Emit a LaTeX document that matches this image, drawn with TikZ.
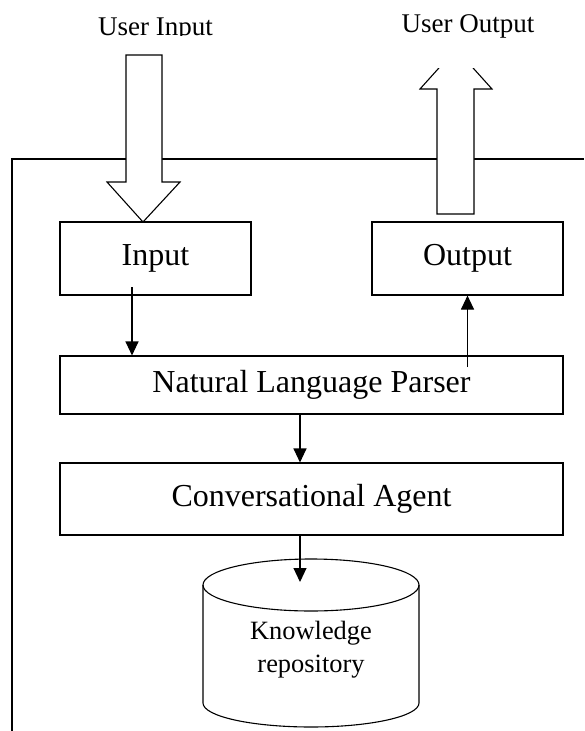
\documentclass[tikz,border=0pt]{standalone}
\usepackage{fontspec}
\setmainfont{Liberation Serif}
\usepackage{tikz}
\usetikzlibrary{arrows.meta}

\begin{document}
\begin{tikzpicture}[x=1pt,y=-1pt,line width=1.1pt,
	box/.style={draw,minimum width=191pt,minimum height=73pt,font=\fontsize{32}{38}\selectfont},
	widebox/.style={draw,minimum width=503pt,font=\fontsize{32}{38}\selectfont},
	userlabel/.style={anchor=base,inner sep=0pt,font=\fontsize{27}{32}\selectfont},
	arr/.style={-{Triangle[length=14pt,width=13pt]}},
	bigarrow/.style={draw,fill=white,line join=miter}]
	\useasboundingbox (0,0) rectangle (584,731);
	% outer frame
	\draw (12,731) -- (12,159) -- (584,159);
	% boxes
	\node[box] at (155.5,258.5) (in) {Input};
	\node[box] at (467.5,258.5) (out) {Output};
	\node[widebox,minimum height=58pt] at (311.5,385) (nlp) {Natural Language Parser};
	\node[widebox,minimum height=72pt] at (311.5,499) (ca) {Conversational Agent};
	% knowledge repository
	\draw (311,585) ellipse [x radius=108,y radius=26];
	\draw (203,585) -- (203,703) arc [start angle=180,end angle=0,x radius=108,y radius=24] -- (419,585);
	\node[align=center,font=\fontsize{26.4}{33}\selectfont] at (311,650) (kb) {Knowledge\\repository};
	% user labels
	\begin{scope}
		\clip (0,0) rectangle (584,35);
		\node[userlabel] at (155.5,35) (uin) {User Input};
	\end{scope}
	\node[userlabel] at (468,32) (uout) {User Output};
	% big arrows
	\draw[bigarrow] (126,55) -- (162,55) -- (162,182) -- (180,182) -- (143,222) -- (107,182) -- (126,182) -- cycle;
	\begin{scope}
		\clip (0,68) rectangle (584,731);
		\draw[bigarrow] (437,214) -- (474,214) -- (474,89) -- (492,89) -- (456,49) -- (420,89) -- (437,89) -- cycle;
	\end{scope}
	% small arrows
	\coordinate (a1) at (132,287);
	\coordinate (a2) at (467.5,367);
	\coordinate (mid) at (300,0);
	\coordinate (kbtop) at (300,582);
	\draw[arr] (a1) -- (a1 |- nlp.north);
	\draw[arr] (a2) -- (out.south);
	\draw[arr] (nlp.south -| mid) -- (ca.north -| mid);
	\draw[arr] (ca.south -| mid) -- (kbtop);
\end{tikzpicture}
\end{document}
